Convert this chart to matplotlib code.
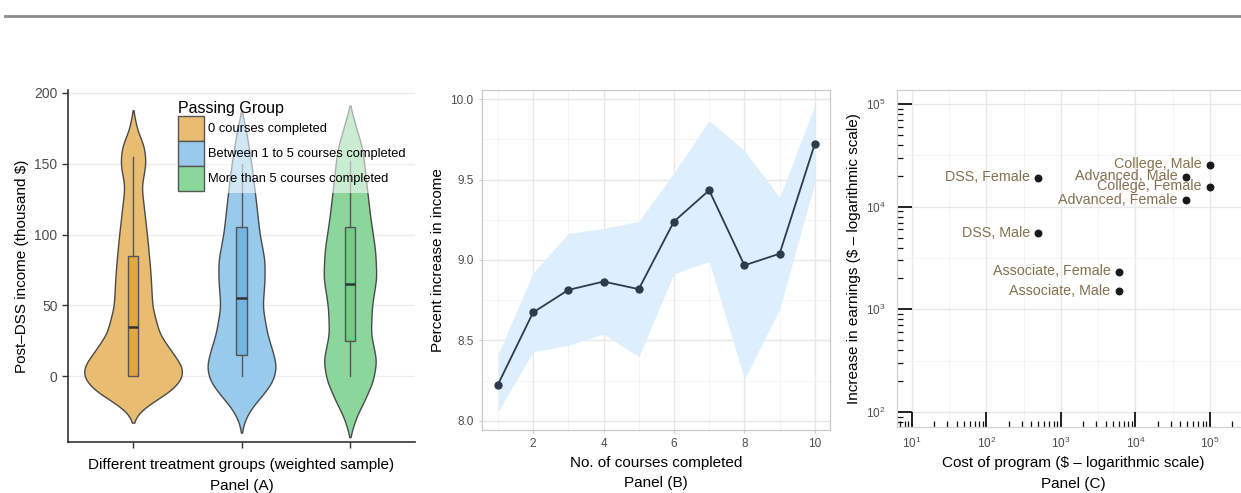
import matplotlib
matplotlib.use("Agg")
import matplotlib.pyplot as plt
from matplotlib.patches import Patch
from matplotlib.lines import Line2D
from matplotlib.ticker import LogLocator, NullFormatter
import numpy as np

plt.rcParams['font.family'] = ['Liberation Sans', 'DejaVu Sans']

# ---------------- Panel A data ----------------
groups = ["0 courses completed", "Between 1 to 5 courses completed", "More than 5 courses completed"]
violin_colors = ["#E8BD72", "#98CAEC", "#8BD79B"]
box_colors = ["#E0A940", "#74B6E3", "#6FCD84"]

# density profiles (value grid, relative half-width)
orange_y = [188, 174, 162, 150, 134, 117, 96, 73, 49, 30, 18, 7, -1, -10, -19, -26, -33]
orange_w = [0, 4, 11, 12.5, 8.3, 11, 14.3, 17.2, 19, 26, 37.5, 48.7, 49, 38, 17.5, 4.5, 0]
blue_y = [188, 171, 148, 124, 101, 82, 68, 49, 30, 16, 7, -3, -12, -22, -31, -40]
blue_w = [0, 5, 10, 14, 17.5, 22.5, 22.5, 20.5, 25, 31, 34, 31, 22, 10, 3, 0]
green_y = [191, 176, 160, 136, 113, 89, 70, 49, 30, 11, -3, -17, -29, -43]
green_w = [0, 6, 12.5, 16.3, 20, 25, 26.3, 21.7, 20.7, 26.3, 23, 14.5, 6, 0]

box_q1 = [0, 15, 25]
box_med = [35, 55, 65]
box_q3 = [85, 105, 105]
whisk_lo = [0, 0, 0]
whisk_hi = [155, 150, 152]

# ---------------- Panel B data ----------------
courses = [1, 2, 3, 4, 5, 6, 7, 8, 9, 10]
pct_increase = [8.225, 8.674, 8.814, 8.866, 8.819, 9.239, 9.433, 8.967, 9.039, 9.722]
ci_upper = [8.41, 8.92, 9.165, 9.196, 9.24, 9.54, 9.866, 9.68, 9.39, 9.96]
ci_lower = [8.056, 8.43, 8.47, 8.54, 8.40, 8.915, 8.99, 8.26, 8.695, 9.48]

# ---------------- Panel C data ----------------
prog_labels = ["DSS, Female", "DSS, Male", "Associate, Female", "Associate, Male",
               "College, Male", "College, Female", "Advanced, Male", "Advanced, Female"]
prog_cost = [500, 500, 6000, 6000, 100000, 100000, 48000, 48000]
prog_gain = [19000, 5500, 2300, 1500, 25500, 15700, 19600, 11500]

W, H = 1241, 493
fig = plt.figure(figsize=(W / 100, H / 100), dpi=100)

def rect(l, t, r, b):
    return [l / W, 1 - b / H, (r - l) / W, (b - t) / H]

def smooth_profile(yy, ww, sigma=4.0):
    yy = np.asarray(yy, float)
    ww = np.asarray(ww, float)
    order = np.argsort(yy)
    yy, ww = yy[order], ww[order]
    grid = np.linspace(yy.min() - 3 * sigma, yy.max() + 3 * sigma, 600)
    vals = np.interp(grid, yy, ww, left=0, right=0)
    step = grid[1] - grid[0]
    k = np.arange(-int(3 * sigma / step), int(3 * sigma / step) + 1) * step
    kern = np.exp(-0.5 * (k / sigma) ** 2)
    kern /= kern.sum()
    sm = np.convolve(vals, kern, mode='same')
    sm *= ww.max() / sm.max()
    keep = (grid >= yy.min()) & (grid <= yy.max())
    return grid[keep], sm[keep]

fig.add_artist(Line2D([5 / W, 1.0], [1 - 15.5 / H] * 2, color="#8a8a8a", lw=2))

tick_grey = "#4D4D4D"

# ======================= Panel A =======================
axA = fig.add_axes(rect(68, 90, 415, 442))
profiles = [(orange_y, orange_w), (blue_y, blue_w), (green_y, green_w)]
maxw = max(max(w) for _, w in profiles)
positions = [1, 2, 3]
for i, (yy, ww) in enumerate(profiles):
    cg, cv = smooth_profile(yy, ww)
    stats = [dict(coords=cg, vals=cv, mean=box_med[i], median=box_med[i],
                  min=cg.min(), max=cg.max())]
    res = axA.violin(stats, positions=[positions[i]], widths=[0.9 * max(ww) / maxw],
                     showmeans=False, showextrema=False, showmedians=False)
    for b in res['bodies']:
        b.set_facecolor(violin_colors[i])
        b.set_edgecolor("#4a4a4a")
        b.set_linewidth(1.0)
        b.set_alpha(1.0)
        b.set_zorder(2)

bstats = [dict(med=box_med[i], q1=box_q1[i], q3=box_q3[i], whislo=whisk_lo[i],
               whishi=whisk_hi[i], fliers=[]) for i in range(3)]
bp = axA.bxp(bstats, positions=positions, widths=0.1, patch_artist=True,
             showcaps=False, showfliers=False, manage_ticks=False,
             boxprops=dict(edgecolor="#555555", linewidth=1.0),
             whiskerprops=dict(color="#555555", linewidth=1.0),
             medianprops=dict(color="#333333", linewidth=1.8))
for i, patch in enumerate(bp['boxes']):
    patch.set_facecolor(box_colors[i])
for k in ['boxes', 'whiskers', 'medians']:
    for a in bp[k]:
        a.set_zorder(3)

axA.set_xlim(0.4, 3.6)
axA.set_ylim(-46.4, 202)
axA.set_yticks([0, 50, 100, 150, 200])
axA.set_xticks(positions)
axA.set_xticklabels([])
axA.yaxis.grid(True, color="#EBEBEB", lw=0.9)
axA.set_axisbelow(True)
for s in ['top', 'right']:
    axA.spines[s].set_visible(False)
for s in ['left', 'bottom']:
    axA.spines[s].set_color("#333333")
    axA.spines[s].set_linewidth(1.2)
axA.tick_params(axis='both', colors="#333333", length=4, width=1, labelsize=10,
                labelcolor=tick_grey)
axA.set_ylabel("Post\u2013DSS income (thousand $)", fontsize=11, labelpad=4)
axA.set_xlabel("Different treatment groups (weighted sample)\nPanel (A)", fontsize=11,
               labelpad=4, linespacing=1.6)

handles = [Patch(facecolor=violin_colors[i], edgecolor="#555555", linewidth=1.0, label=groups[i])
           for i in range(3)]
leg = axA.legend(handles=handles, title="Passing Group", loc="upper left",
                 bbox_to_anchor=(0.312, 0.975), prop={'size': 9.3}, title_fontsize=11.5,
                 frameon=True, framealpha=0.55, facecolor="white", edgecolor="none",
                 fancybox=False, handlelength=2.0, handleheight=2.6, labelspacing=0.0,
                 handletextpad=0.3, borderpad=0.15, borderaxespad=0.0, alignment="left")
leg.set_zorder(5)

# ======================= Panel B =======================
axB = fig.add_axes(rect(482, 90, 830, 430))
axB.fill_between(courses, ci_lower, ci_upper, color="#DDEEFD", lw=0, zorder=1)
axB.plot(courses, pct_increase, color="#2E3B4A", lw=1.3, marker='o', ms=5, zorder=3)
axB.set_xlim(0.55, 10.43)
axB.set_ylim(7.944, 10.056)
axB.set_xticks([2, 4, 6, 8, 10])
axB.set_xticks([1, 3, 5, 7, 9], minor=True)
axB.set_yticks([8.0, 8.5, 9.0, 9.5, 10.0])
axB.set_yticks([8.25, 8.75, 9.25, 9.75], minor=True)
axB.set_yticklabels(["8.0", "8.5", "9.0", "9.5", "10.0"])
axB.grid(True, which='major', color="#E6E6E6", lw=0.9)
axB.grid(True, which='minor', color="#F2F2F2", lw=0.6)
axB.set_axisbelow(True)
for s in axB.spines.values():
    s.set_color("#C8C8C8")
    s.set_linewidth(0.9)
axB.tick_params(which='major', colors="#C8C8C8", length=2.5, labelsize=8.5, labelcolor=tick_grey)
axB.tick_params(which='minor', length=0)
axB.set_ylabel("Percent increase in income", fontsize=11, labelpad=4)
axB.set_xlabel("No. of courses completed\nPanel (B)", fontsize=11, labelpad=4, linespacing=1.6)

# ======================= Panel C =======================
axC = fig.add_axes(rect(897, 90, 1249, 427))
axC.set_xscale('log')
axC.set_yscale('log')
axC.set_xlim(10 ** 0.8, 10 ** 5.525)
axC.set_ylim(10 ** 1.854, 10 ** 5.136)
axC.scatter(prog_cost, prog_gain, s=22, color="#1a1a1a", zorder=3)
for lab, xv, yv in zip(prog_labels, prog_cost, prog_gain):
    axC.annotate(lab, (xv, yv), xytext=(-6, 0.5), textcoords='offset points',
                 ha='right', va='center', fontsize=10.3, color="#85704F", zorder=4)

# grid: decades (major) and half-decades (minor)
for e in range(1, 6):
    axC.axvline(10 ** e, color="#E6E6E6", lw=0.9, zorder=0)
    axC.axvline(10 ** (e + 0.5), color="#F2F2F2", lw=0.6, zorder=0)
for e in range(2, 6):
    axC.axhline(10 ** e, color="#E6E6E6", lw=0.9, zorder=0)
for e in range(1, 5):
    axC.axhline(10 ** (e + 0.5), color="#F2F2F2", lw=0.6, zorder=0)

axC.xaxis.set_major_locator(LogLocator(base=10, numticks=10))
axC.yaxis.set_major_locator(LogLocator(base=10, numticks=10))
axC.xaxis.set_minor_locator(LogLocator(base=10, subs=np.arange(2, 10), numticks=20))
axC.yaxis.set_minor_locator(LogLocator(base=10, subs=np.arange(2, 10), numticks=20))
axC.xaxis.set_minor_formatter(NullFormatter())
axC.yaxis.set_minor_formatter(NullFormatter())
axC.tick_params(which='major', direction='in', length=11, width=1.3, color="#111111",
                labelsize=8.5, labelcolor=tick_grey)
axC.tick_params(which='minor', direction='in', length=4, width=0.9, color="#111111")
axC.tick_params(axis='y', which='major', pad=8)
axC.tick_params(axis='x', which='major', pad=6)
for s in axC.spines.values():
    s.set_color("#D0D0D0")
    s.set_linewidth(0.9)
axC.set_ylabel("Increase in earnings ($ \u2013 logarithmic scale)", fontsize=11, labelpad=4)
axC.set_xlabel("Cost of program ($ \u2013 logarithmic scale)\nPanel (C)", fontsize=11,
               labelpad=4, linespacing=1.6)

fig.savefig("out.png", dpi=100)
